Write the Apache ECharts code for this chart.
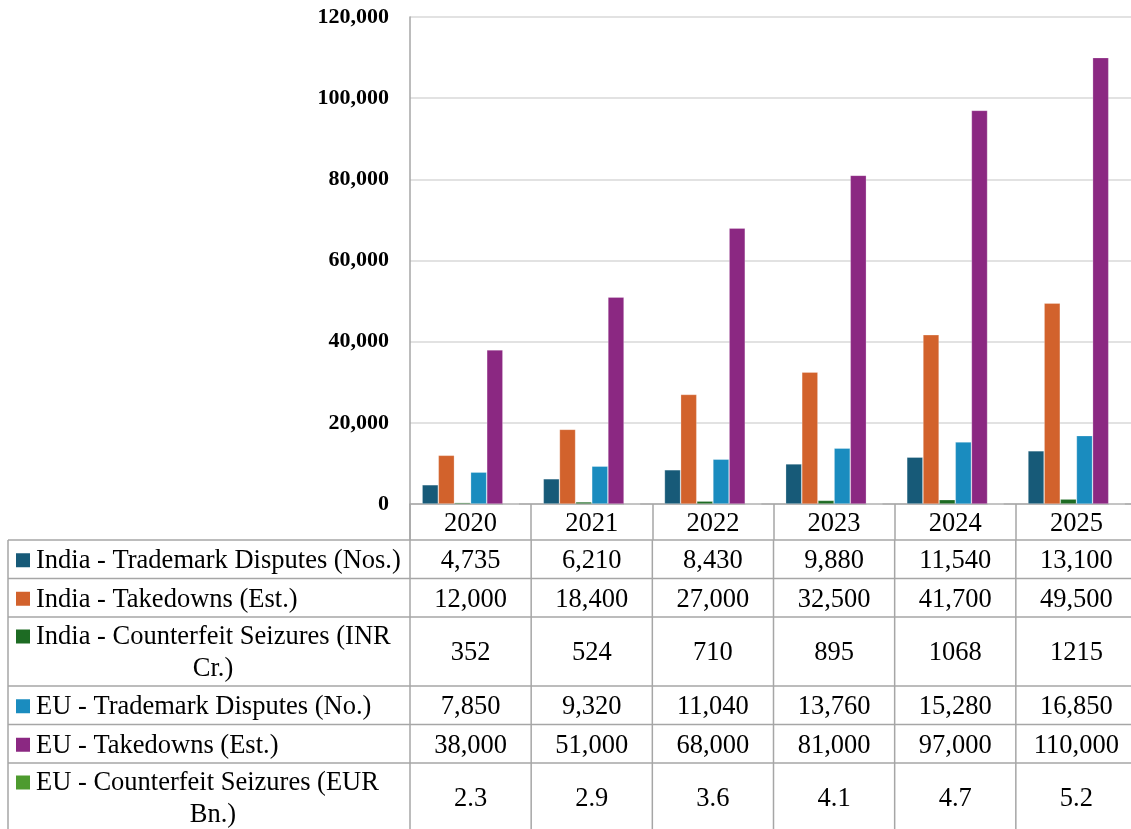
<!DOCTYPE html>
<html>
<head>
<meta charset="utf-8">
<script src="https://cdn.jsdelivr.net/npm/echarts@6/dist/echarts.min.js"></script>
<style>
  html, body { margin: 0; padding: 0; background: #fff; overflow: hidden; }
  #main { width: 1140px; height: 829px; }
</style>
</head>
<body>
<div id="main"></div>
<script>
var years = ['2020', '2021', '2022', '2023', '2024', '2025'];
var indiaDisputes = [4735, 6210, 8430, 9880, 11540, 13100];
var indiaTakedowns = [12000, 18400, 27000, 32500, 41700, 49500];
var indiaSeizures = [352, 524, 710, 895, 1068, 1215];
var euDisputes = [7850, 9320, 11040, 13760, 15280, 16850];
var euTakedowns = [38000, 51000, 68000, 81000, 97000, 110000];
var euSeizures = [2.3, 2.9, 3.6, 4.1, 4.7, 5.2];
var yTicks = [0, 20000, 40000, 60000, 80000, 100000, 120000];

var seriesList = [
    { name: 'India - Trademark Disputes (Nos.)', data: indiaDisputes, color: '#175a78', fmt: 'comma' },
    { name: 'India - Takedowns (Est.)', data: indiaTakedowns, color: '#d2622c', fmt: 'comma' },
    { name: 'India - Counterfeit Seizures (INR Cr.)', data: indiaSeizures, color: '#1d6b23', fmt: 'plain' },
    { name: 'EU - Trademark Disputes (No.)', data: euDisputes, color: '#1a8cbf', fmt: 'comma' },
    { name: 'EU - Takedowns (Est.)', data: euTakedowns, color: '#8b2882', fmt: 'comma' },
    { name: 'EU - Counterfeit Seizures (EUR Bn.)', data: euSeizures, color: '#4e9b2f', fmt: 'plain' }
];

var FONT = '"Liberation Serif", "Times New Roman", serif';
var lineCol = '#a6a6a6';
var tableFont = 26.5;

function fmtNum(v, fmt) {
    if (fmt === 'comma') return v.toLocaleString('en-US');
    return String(v);
}

var myChart = echarts.init(document.getElementById('main'));

var option = {
    animation: false,
    backgroundColor: '#fff',
    grid: { left: 410, top: 17, width: 727, height: 487 },
    xAxis: {
        type: 'category',
        data: years,
        axisLine: { lineStyle: { color: lineCol, width: 1.5 } },
        axisTick: { show: true, length: 36, lineStyle: { color: lineCol, width: 1.5 } },
        axisLabel: { fontFamily: FONT, fontSize: tableFont, color: '#000', margin: 7 }
    },
    yAxis: {
        type: 'value',
        min: yTicks[0],
        max: yTicks[yTicks.length - 1],
        interval: yTicks[1] - yTicks[0],
        axisLine: { show: true, lineStyle: { color: lineCol, width: 1.5 } },
        axisTick: { show: false },
        splitLine: { lineStyle: { color: '#d9d9d9', width: 1.5 } },
        axisLabel: {
            fontFamily: FONT, fontSize: 22, fontWeight: 'bold', color: '#000', margin: 21,
            formatter: function (v) { return v.toLocaleString('en-US'); }
        }
    },
    series: seriesList.map(function (s) {
        return {
            name: s.name,
            type: 'bar',
            data: s.data,
            barGap: 0,
            barCategoryGap: '20%',
            itemStyle: { color: s.color, borderColor: 'rgba(255,255,255,0.35)', borderWidth: 0.7 }
        };
    })
};
myChart.setOption(option);

// data table under the plot, positioned from the x axis scale
var measureCtx = document.createElement('canvas').getContext('2d');
measureCtx.font = tableFont + 'px ' + FONT;

var leftX = 8;
var axisX = 410;
var headTop = 504;
var tableTop = 540;
var singleH = 38.5;
var doubleH = 69;
var lineH = 32;
var textShift = 2;
var bottomY = 840;

var c0 = myChart.convertToPixel({ xAxisIndex: 0 }, 0);
var c1 = myChart.convertToPixel({ xAxisIndex: 0 }, 1);
var band = c1 - c0;
var rightX = myChart.convertToPixel({ xAxisIndex: 0 }, years.length - 1) + band / 2;

var els = [];
var y = tableTop;
var rowTops = [];

seriesList.forEach(function (s) {
    // wrap label if it does not fit the label cell
    var keyW = 20;
    var avail = axisX - leftX - 8 - keyW;
    var words = s.name.split(' ');
    var line1 = s.name, line2 = null;
    if (measureCtx.measureText(s.name).width > avail) {
        var i = words.length;
        while (i > 1 && measureCtx.measureText(words.slice(0, i).join(' ')).width > avail) i--;
        line1 = words.slice(0, i).join(' ');
        line2 = words.slice(i).join(' ');
    }
    var h = line2 ? doubleH : singleH;
    rowTops.push(y);
    var midY = y + h / 2 + textShift;
    var firstY = line2 ? midY - lineH / 2 : midY;

    els.push({
        type: 'rect',
        shape: { x: 16, y: firstY - 8, width: 14, height: 14 },
        style: { fill: s.color }
    });
    els.push({
        type: 'text',
        style: { text: line1, x: 36, y: firstY, font: tableFont + 'px ' + FONT, fill: '#000', verticalAlign: 'middle', align: 'left' }
    });
    if (line2) {
        els.push({
            type: 'text',
            style: { text: line2, x: (leftX + axisX) / 2 + 4, y: midY + lineH / 2, font: tableFont + 'px ' + FONT, fill: '#000', verticalAlign: 'middle', align: 'center' }
        });
    }
    s.data.forEach(function (v, j) {
        var cx = myChart.convertToPixel({ xAxisIndex: 0 }, j);
        els.push({
            type: 'text',
            style: { text: fmtNum(v, s.fmt), x: cx, y: midY, font: tableFont + 'px ' + FONT, fill: '#000', verticalAlign: 'middle', align: 'center' }
        });
    });
    y += h;
});
rowTops.push(y);

var lineStyle = { stroke: lineCol, lineWidth: 1.5 };
rowTops.forEach(function (ty) {
    els.push({ type: 'line', shape: { x1: leftX, y1: ty, x2: rightX, y2: ty }, style: lineStyle });
});
els.push({ type: 'line', shape: { x1: leftX, y1: tableTop, x2: leftX, y2: bottomY }, style: lineStyle });
els.push({ type: 'line', shape: { x1: axisX, y1: headTop, x2: axisX, y2: bottomY }, style: lineStyle });
for (var k = 1; k <= years.length; k++) {
    var bx = c0 - band / 2 + band * k;
    els.push({ type: 'line', shape: { x1: bx, y1: tableTop, x2: bx, y2: bottomY }, style: lineStyle });
}

myChart.setOption({ graphic: { elements: els } });
</script>
</body>
</html>
